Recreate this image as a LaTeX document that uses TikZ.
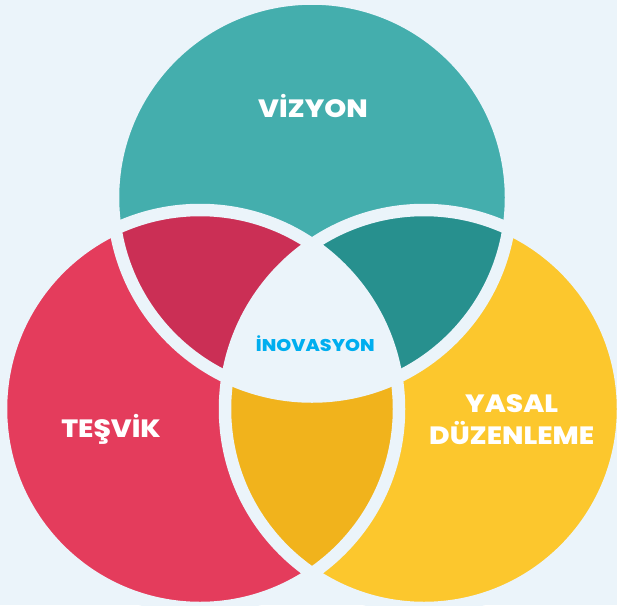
\documentclass[tikz,border=0pt]{standalone}
\usepackage{fontspec}
\setmainfont{Poppins}[BoldFont={Poppins ExtraBold},BoldFeatures={FakeStretch=1.12}]
\definecolor{bgblue}{HTML}{EBF4FA}
\definecolor{vizyon}{HTML}{44AEAD}
\definecolor{vizyonlens}{HTML}{27908E}
\definecolor{tesvik}{HTML}{E43C5C}
\definecolor{tesviklens}{HTML}{CB2F55}
\definecolor{yasal}{HTML}{FCC72D}
\definecolor{yasallens}{HTML}{F1B31C}
\definecolor{inovasyon}{HTML}{00AEEF}
\begin{document}
\begin{tikzpicture}[x=1pt,y=-1pt,
	gap/.style={draw=bgblue,line width=12.5pt},
	label/.style={text=white,inner sep=0pt,font=\bfseries\fontsize{25}{32.6}\selectfont}]
	\fill[bgblue] (0,0) rectangle (617,605);
	\useasboundingbox (0,0) rectangle (617,605);
	\def\rad{199pt}
	
	\coordinate (top) at (312,197.5);
	\coordinate (left) at (200,409);
	\coordinate (right) at (424,409);
	
	\fill[vizyon] (top) circle[radius=\rad];
	\fill[tesvik] (left) circle[radius=\rad];
	\fill[yasal] (right) circle[radius=\rad];
	
	% overlaps
	\begin{scope}
		\clip (left) circle[radius=\rad];
		\fill[yasallens] (right) circle[radius=\rad];
	\end{scope}
	\begin{scope}
		\clip (top) circle[radius=\rad];
		\fill[tesviklens] (left) circle[radius=\rad];
		\fill[vizyonlens] (right) circle[radius=\rad];
		\clip (left) circle[radius=\rad];
		\fill[bgblue] (right) circle[radius=\rad];
	\end{scope}
	
	\foreach \c in {top,left,right}{
		\draw[gap] (\c) circle[radius=\rad];
	}
	
	\node[label,anchor=base] (vizyontext) at (313,117.3) {VİZYON};
	\node[label,anchor=base] (tesviktext) at (111,437.3) {TEŞVİK};
	\node[label,align=center] (yasaltext) at (511.7,419.5) {YASAL\\DÜZENLEME};
	\node[anchor=base,inner sep=0pt,text=inovasyon,font=\bfseries\fontsize{17}{20}\selectfont] (inovasyontext) at (315.3,351) {İNOVASYON};
\end{tikzpicture}
\end{document}
